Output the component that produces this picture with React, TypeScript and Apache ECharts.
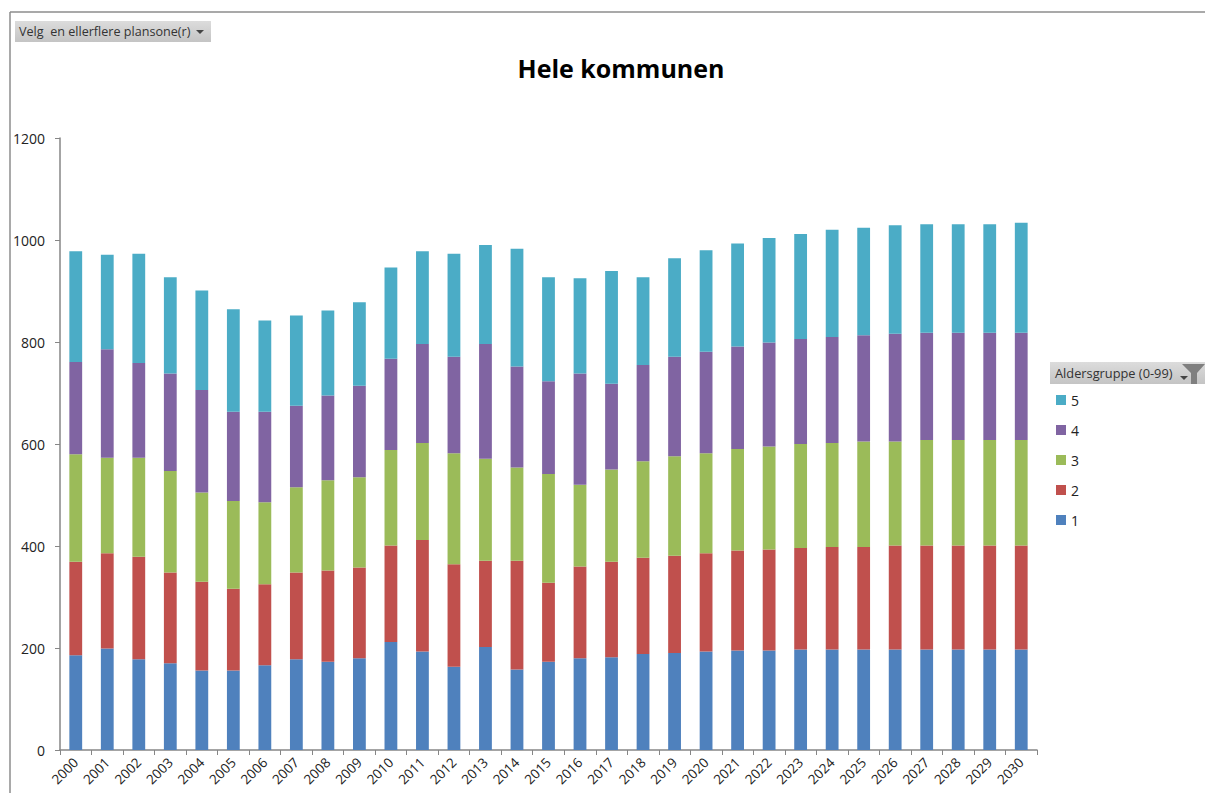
import React, { useEffect, useRef } from "react";
import * as echarts from "echarts";

const years = ["2000","2001","2002","2003","2004","2005","2006","2007","2008","2009","2010","2011","2012","2013","2014","2015","2016","2017","2018","2019","2020","2021","2022","2023","2024","2025","2026","2027","2028","2029","2030"];
const group1 = [186,199,178,170,156,156,166,178,173,180,212,193,163,202,158,173,180,182,188,190,193,195,195,197,197,197,197,197,197,197,197];
const group2 = [183,187,201,178,174,160,159,170,179,178,189,219,201,169,213,155,180,187,189,191,193,196,198,199,201,201,204,204,204,204,204];
const group3 = [211,187,194,199,175,172,161,167,177,177,187,190,218,200,183,213,160,181,189,195,196,199,202,204,204,207,204,207,207,207,207];
const group4 = [181,213,186,191,201,175,177,160,166,179,179,194,189,225,198,182,218,168,189,195,199,201,204,206,208,208,211,210,210,210,210];
const group5 = [217,185,214,189,195,201,179,177,167,164,179,182,202,194,231,204,187,221,172,193,199,202,205,206,210,211,213,213,213,213,216];
const seriesNames = ["1", "2", "3", "4", "5"];
const seriesValues = [group1, group2, group3, group4, group5];
const seriesColors = ["#4f81bd", "#c0504d", "#9bbb59", "#8064a2", "#4bacc6"];
const FONT = "'Open Sans', sans-serif";

const buttonFill = () =>
  new echarts.graphic.LinearGradient(0, 0, 0, 1, [
    { offset: 0, color: "#dcdcdc" },
    { offset: 1, color: "#c4c4c4" },
  ]);

export default function App() {
  const ref = useRef<HTMLDivElement>(null);
  useEffect(() => {
    const chart = echarts.init(ref.current!, null, { renderer: "svg" });
    chart.setOption({
      animation: false,
      backgroundColor: "#ffffff",
      title: {
        text: "Hele kommunen",
        left: 616,
        top: 50,
        textAlign: "center",
        textStyle: { fontFamily: FONT, fontSize: 25, fontWeight: "bold", color: "#000000" },
      },
      legend: {
        orient: "vertical",
        left: 1051,
        top: 386,
        data: ["5", "4", "3", "2", "1"],
        icon: "rect",
        itemWidth: 10,
        itemHeight: 10,
        itemGap: 12,
        textStyle: { fontFamily: FONT, fontSize: 14, color: "#222222", padding: [0, 0, 0, 0], lineHeight: 18 },
      },
      grid: { left: 60, top: 138, width: 977, height: 612, containLabel: false, outerBoundsMode: "none" },
      xAxis: {
        type: "category",
        data: years,
        axisLine: { lineStyle: { color: "#868686", width: 1.5 } },
        axisTick: { show: true, length: 5, alignWithLabel: false, lineStyle: { color: "#868686", width: 1 } },
        axisLabel: { interval: 0, rotate: 45, fontFamily: FONT, fontSize: 13.5, color: "#222222", margin: 10, hideOverlap: false },
      },
      yAxis: {
        type: "value",
        min: 0,
        max: 1200,
        interval: 200,
        axisLine: { show: true, lineStyle: { color: "#868686", width: 1.5 } },
        axisTick: { show: true, length: 5, lineStyle: { color: "#868686", width: 1 } },
        splitLine: { show: false },
        axisLabel: { fontFamily: FONT, fontSize: 14, color: "#222222", margin: 15, formatter: (v: number) => String(v) },
      },
      series: seriesNames.map((name, i) => ({
        name,
        type: "bar",
        stack: "total",
        barWidth: 12.8,
        data: seriesValues[i],
        itemStyle: { color: seriesColors[i] },
      })),
      graphic: [
        { type: "line", shape: { x1: 10, y1: 12, x2: 1205, y2: 12 }, style: { stroke: "#8c8c8c", lineWidth: 1.5 } },
        { type: "line", shape: { x1: 10, y1: 12, x2: 10, y2: 793 }, style: { stroke: "#8c8c8c", lineWidth: 1.5 } },
        { type: "rect", shape: { x: 15, y: 21, width: 196, height: 21 }, style: { fill: buttonFill() } },
        { type: "text", x: 19, y: 25, style: { text: "Velg  en ellerflere plansone(r)", fontFamily: FONT, fontSize: 12.6, fill: "#333333" } },
        { type: "polygon", shape: { points: [[196, 30], [204, 30], [200, 34]] }, style: { fill: "#444444" } },
        { type: "rect", shape: { x: 1050, y: 362, width: 155, height: 22 }, style: { fill: buttonFill() } },
        { type: "text", x: 1055, y: 366, style: { text: "Aldersgruppe (0-99)", fontFamily: FONT, fontSize: 12.8, fill: "#333333" } },
        { type: "polygon", shape: { points: [[1180, 376], [1188, 376], [1184, 380]] }, style: { fill: "#444444" } },
        { type: "polygon", shape: { points: [[1182, 364], [1205, 364], [1197, 373], [1197, 384], [1191, 384], [1191, 373]] }, style: { fill: "#7f7f7f" } },
      ],
    });
    return () => chart.dispose();
  }, []);
  return <div ref={ref} style={{ position: "fixed", left: 0, top: 0, width: 1205, height: 793 }} />;
}
